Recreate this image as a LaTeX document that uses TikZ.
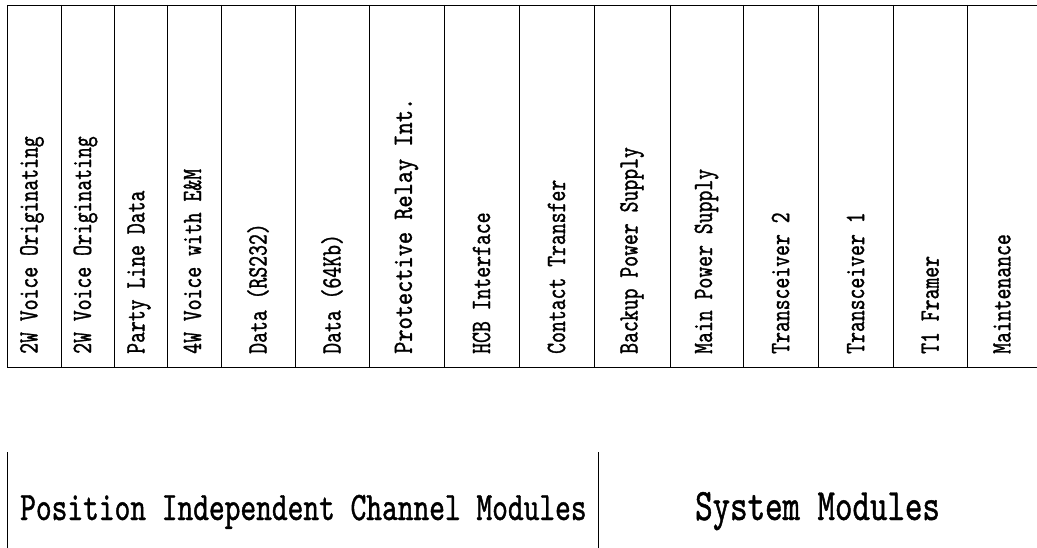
\documentclass[tikz,border=0pt]{standalone}
\usepackage{fontspec}
\usepackage{graphicx}
% condensed monospaced face used for every label
\newfontfamily\narrowtt{lmmono10-regular}[Extension=.otf, FakeStretch=0.74, FakeBold=1]
\begin{document}
\begin{tikzpicture}[x=1pt, y=-1pt,
  rule/.style={line width=0.9pt, black},
  module/.style={rotate=90, anchor=west, inner sep=0pt,
    font=\narrowtt\fontsize{28}{28}\selectfont},
  group/.style={anchor=base west, inner sep=0pt, font=\narrowtt}]
\useasboundingbox (0,0) rectangle (1037,548);

% backplane row of module slots
\draw[rule] (7,5) -- (1037,5);
\draw[rule] (7,367) -- (1037,367);
\foreach \x in {7,61,114,167,221,295,369,444,519,594,670,743,818,893,967}
  \draw[rule] (\x,5) -- (\x,367);

% slot labels, written bottom to top
\foreach \name/\x/\txt in {
    vo1/32/{2W Voice Originating},
    vo2/85.5/{2W Voice Originating},
    pld/139/{Party Line Data},
    vem/192.5/{4W Voice with E\&M},
    rs/258/{Data (RS232)},
    kb/332/{Data (64Kb)},
    pri/406.5/{\resizebox{256pt}{\height}{Protective Relay Int.}},
    hcb/481.5/{HCB Interface},
    ct/556.5/{Contact Transfer},
    bps/632/{Backup Power Supply},
    mps/706.5/{Main Power Supply},
    tr2/780.5/{Transceiver 2},
    tr1/855.5/{Transceiver 1},
    tf/930/{T1 Framer},
    mnt/1002/{Maintenance}}
  \node[module] (\name) at (\x,354) {\txt};

% grouping underneath
\coordinate (ga) at (7,452);
\coordinate (gb) at (7,548);
\coordinate (gc) at (598,452);
\coordinate (gd) at (598,548);
\draw[rule] (ga) -- (gb);
\draw[rule] (gc) -- (gd);
\node[group, font=\narrowtt\fontsize{40.5}{42}\selectfont] (pos) at (20,520)
  {Position Independent Channel Modules};
\node[group, font=\narrowtt\fontsize{45}{47}\selectfont] (sys) at (695,520)
  {System Modules};
\end{tikzpicture}
\end{document}
